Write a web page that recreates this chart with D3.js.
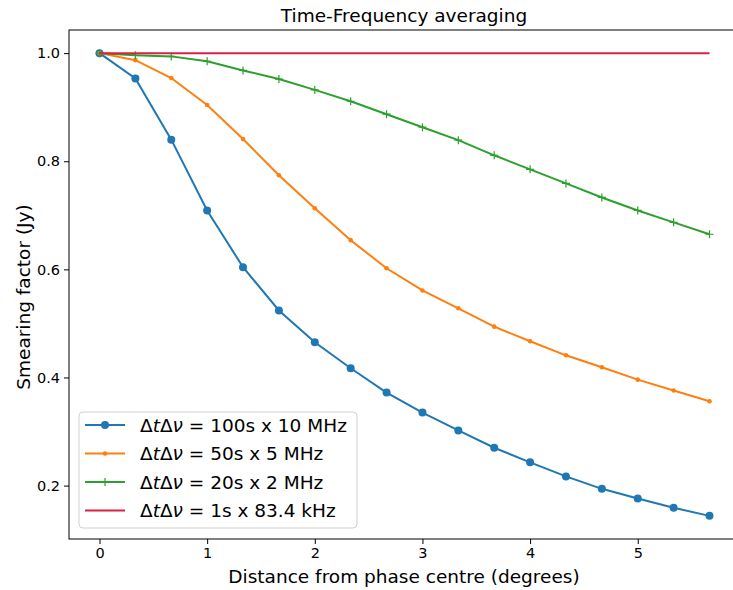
<!DOCTYPE html>
<html>
<head>
<meta charset="utf-8">
<script src="https://cdn.jsdelivr.net/npm/d3@7"></script>
<style>
  body { margin: 0; background: #fff; }
  text { font-family: "DejaVu Sans", sans-serif; fill: #000; }
</style>
</head>
<body>
<svg id="chart" width="733" height="590"></svg>
<script>
// distance from phase centre (degrees), steps of 1/3
const distance = d3.range(18).map(i => i / 3);

const smear100s = [1.0, 0.953, 0.840, 0.709, 0.604, 0.524, 0.465, 0.417, 0.372,
  0.335, 0.302, 0.270, 0.243, 0.217, 0.194, 0.176, 0.159, 0.144];
const smear50s = [1.0, 0.987, 0.954, 0.904, 0.841, 0.774, 0.713, 0.654, 0.602,
  0.561, 0.528, 0.494, 0.467, 0.441, 0.419, 0.396, 0.376, 0.356];
const smear20s = [1.0, 0.996, 0.994, 0.985, 0.968, 0.952, 0.932, 0.911, 0.887,
  0.863, 0.839, 0.811, 0.785, 0.759, 0.733, 0.709, 0.687, 0.665];
const smear1s = distance.map(() => 1.0);

const xTicks = [0, 1, 2, 3, 4, 5];
const yTicks = [0.2, 0.4, 0.6, 0.8, 1.0];

const seriesLabels = ["100s x 10 MHz", "50s x 5 MHz", "20s x 2 MHz", "1s x 83.4 kHz"];
const seriesColors = ["#1f77b4", "#ff7f0e", "#2ca02c", "#dc1f45"];
const seriesMarkers = ["circle", "dot", "plus", "none"];
const seriesValues = [smear100s, smear50s, smear20s, smear1s];

const plot = { left: 69, top: 30, right: 740, bottom: 539 };

const svg = d3.select("#chart");

// matplotlib-style 5% margins
const xMax = d3.max(distance), xPad = xMax * 0.05;
const x = d3.scaleLinear().domain([-xPad, xMax + xPad]).range([plot.left, plot.right]);
const yMin = d3.min(smear100s), yPad = (1 - yMin) * 0.05;
const y = d3.scaleLinear().domain([yMin - yPad, 1 + yPad]).range([plot.bottom, plot.top]);

// series
const line = d3.line().x((d, i) => x(distance[i])).y(d => y(d));
const g = svg.append("g");
seriesValues.forEach((vals, k) => {
  const col = seriesColors[k];
  g.append("path").datum(vals)
    .attr("d", line).attr("fill", "none")
    .attr("stroke", col).attr("stroke-width", 2);
  const m = seriesMarkers[k];
  if (m === "circle" || m === "dot") {
    g.selectAll(null).data(vals).join("circle")
      .attr("cx", (d, i) => x(distance[i])).attr("cy", d => y(d))
      .attr("r", m === "circle" ? 4 : 2.3).attr("fill", col);
  } else if (m === "plus") {
    const pts = g.selectAll(null).data(vals).join("g")
      .attr("transform", (d, i) => `translate(${x(distance[i])},${y(d)})`);
    pts.append("path").attr("d", "M-4,0H4M0,-4V4")
      .attr("stroke", col).attr("stroke-width", 1.2);
  }
});

// axes
const xAxis = svg.append("g").attr("transform", `translate(0,${plot.bottom})`)
  .call(d3.axisBottom(x).tickValues(xTicks).tickFormat(d3.format("d")).tickSize(5).tickPadding(4));
const yAxis = svg.append("g").attr("transform", `translate(${plot.left},0)`)
  .call(d3.axisLeft(y).tickValues(yTicks).tickFormat(d3.format(".1f")).tickSize(5).tickPadding(4));
[xAxis, yAxis].forEach(a => {
  a.select(".domain").remove();
  a.selectAll("text").attr("font-size", 14.5).attr("font-family", "DejaVu Sans").attr("fill", "#222");
  a.selectAll("line").attr("stroke", "#000").attr("stroke-width", 1);
});

// spines
svg.append("rect")
  .attr("x", plot.left).attr("y", plot.top)
  .attr("width", plot.right - plot.left).attr("height", plot.bottom - plot.top)
  .attr("fill", "none").attr("stroke", "#000").attr("stroke-width", 1);

// title and labels
svg.append("text").attr("x", 404).attr("y", 22).attr("text-anchor", "middle")
  .attr("font-size", 18.5).text("Time-Frequency averaging");
svg.append("text").attr("x", 404).attr("y", 583).attr("text-anchor", "middle")
  .attr("font-size", 18.5).text("Distance from phase centre (degrees)");
svg.append("text").attr("transform", "translate(30,297) rotate(-90)")
  .attr("text-anchor", "middle").attr("font-size", 18.5).text("Smearing factor (Jy)");

// legend
const leg = svg.append("g").attr("transform", "translate(79,412)");
leg.append("rect").attr("width", 278).attr("height", 116).attr("rx", 4)
  .attr("fill", "#fff").attr("fill-opacity", 0.8)
  .attr("stroke", "#d0d0d0").attr("stroke-width", 1);
seriesLabels.forEach((lab, k) => {
  const row = leg.append("g").attr("transform", `translate(0,${13 + k * 28.5})`);
  const col = seriesColors[k];
  row.append("line").attr("x1", 6).attr("x2", 46).attr("stroke", col).attr("stroke-width", 2);
  if (seriesMarkers[k] === "circle") row.append("circle").attr("cx", 26).attr("r", 4).attr("fill", col);
  if (seriesMarkers[k] === "dot") row.append("circle").attr("cx", 26).attr("r", 2.3).attr("fill", col);
  if (seriesMarkers[k] === "plus") row.append("path").attr("d", "M22,0H30M26,-4V4").attr("stroke", col).attr("stroke-width", 1.2);
  const t = row.append("text").attr("x", 61).attr("y", 6.5).attr("font-size", 18.5);
  t.append("tspan").text("Δ");
  t.append("tspan").attr("font-style", "italic").text("t");
  t.append("tspan").text("Δ");
  t.append("tspan").attr("font-style", "italic").text("ν");
  t.append("tspan").text(" = " + lab);
});
</script>
</body>
</html>
